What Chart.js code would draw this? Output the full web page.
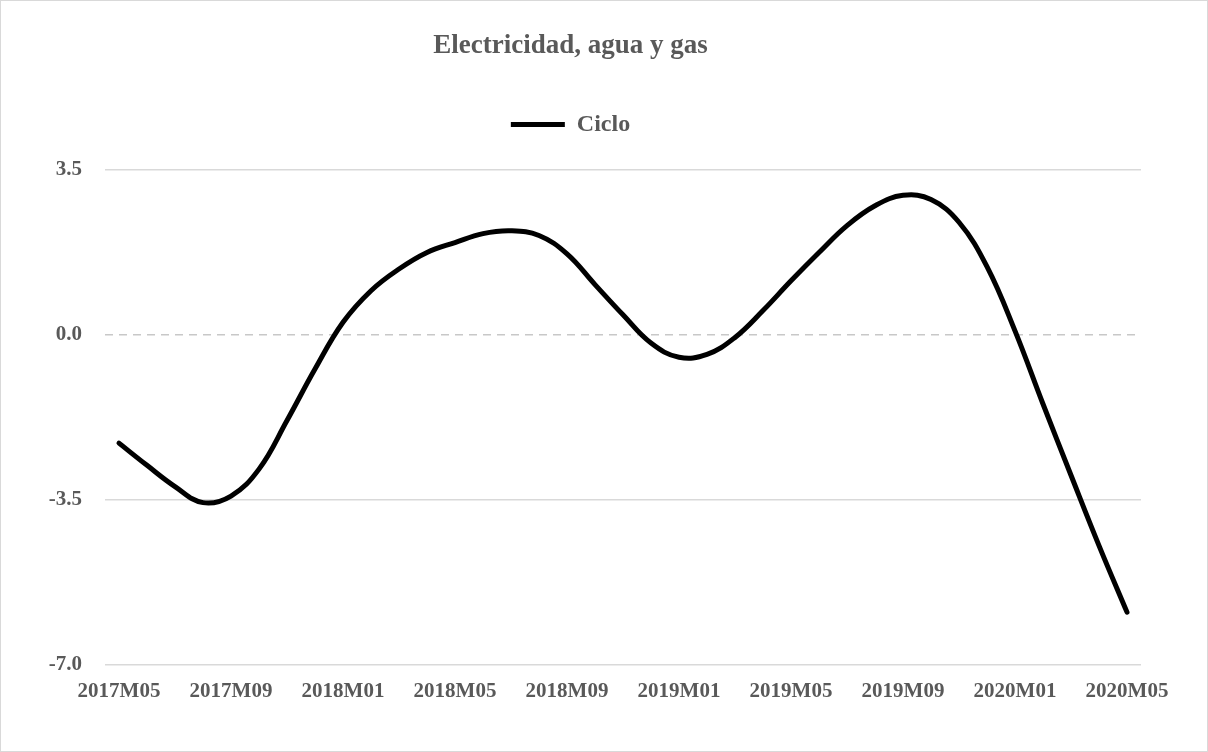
<!DOCTYPE html>
<html>
<head>
<meta charset="utf-8">
<script src="https://cdn.jsdelivr.net/npm/chart.js@4.4.1/dist/chart.umd.min.js"></script>
<style>
html,body{margin:0;padding:0;background:#fff;}
#wrap{width:1208px;height:752px;position:relative;}
</style>
</head>
<body>
<div id="wrap"><canvas id="c" width="1208" height="752"></canvas></div>
<script>
const titleText = "Electricidad, agua y gas";
const seriesName = "Ciclo";
const months = [
  "2017M05","2017M06","2017M07","2017M08","2017M09","2017M10","2017M11","2017M12",
  "2018M01","2018M02","2018M03","2018M04","2018M05","2018M06","2018M07","2018M08",
  "2018M09","2018M10","2018M11","2018M12","2019M01","2019M02","2019M03","2019M04",
  "2019M05","2019M06","2019M07","2019M08","2019M09","2019M10","2019M11","2019M12",
  "2020M01","2020M02","2020M03","2020M04","2020M05"
];
const ciclo = [
  -2.30, -2.77, -3.22, -3.56, -3.42, -2.85, -1.82, -0.73,
   0.26,  0.93,  1.39,  1.74,  1.95,  2.14,  2.20,  2.10,
   1.71,  1.06,  0.42, -0.18, -0.48, -0.42, -0.06,  0.51,
   1.14,  1.74,  2.31,  2.73,  2.95,  2.86,  2.38,  1.44,
   0.08, -1.47, -2.98, -4.47, -5.88
];
const yTicks = [-7.0, -3.5, 0.0, 3.5];

const textColor = "#595959";
const fontFam = "'Liberation Serif', 'Times New Roman', serif";

const borderPlugin = {
  id: 'outerBorder',
  afterDraw(chart) {
    const ctx = chart.ctx;
    ctx.save();
    ctx.strokeStyle = '#d9d9d9';
    ctx.lineWidth = 1;
    ctx.strokeRect(0.5, 0.5, chart.width - 1, chart.height - 1);
    ctx.restore();
  }
};

const legendGapPlugin = {
  id: 'legendGap',
  beforeLayout(chart) {
    const lg = chart.legend;
    if (lg && !lg._gapPatched) {
      const origFit = lg.fit.bind(lg);
      lg.fit = function() { origFit(); this.height += 23; };
      lg._gapPatched = true;
    }
  }
};

new Chart(document.getElementById('c'), {
  type: 'line',
  data: {
    labels: months,
    datasets: [{
      label: seriesName,
      data: ciclo,
      borderColor: '#000000',
      backgroundColor: '#000000',
      borderWidth: 5,
      borderCapStyle: 'round',
      borderJoinStyle: 'round',
      pointRadius: 0,
      pointHoverRadius: 0,
      pointStyle: 'line',
      tension: 0.4,
      fill: false,
      clip: false
    }]
  },
  options: {
    responsive: false,
    animation: false,
    devicePixelRatio: 1,
    layout: { padding: { top: 0, left: 0, right: 67, bottom: 0 } },
    plugins: {
      title: {
        display: true,
        text: titleText,
        color: textColor,
        font: { family: fontFam, size: 27, weight: 'bold' },
        padding: { top: 30, bottom: 17 }
      },
      legend: {
        display: true,
        position: 'top',
        labels: {
          color: textColor,
          font: { family: fontFam, size: 24, weight: 'bold' },
          usePointStyle: true,
          pointStyle: 'line',
          pointStyleWidth: 54,
          boxWidth: 54,
          boxHeight: 24,
          padding: 33
        }
      },
      tooltip: { enabled: false }
    },
    scales: {
      x: {
        offset: true,
        grid: { display: false, drawTicks: false },
        border: { display: false },
        ticks: {
          autoSkip: false,
          maxRotation: 0,
          minRotation: 0,
          padding: 14,
          color: textColor,
          font: { family: fontFam, size: 21, weight: 'bold' },
          callback: function(v, i) { return i % 4 === 0 ? months[i] : ''; }
        },
        afterFit: function(s) { s.height = 87; }
      },
      y: {
        min: yTicks[0],
        max: yTicks[yTicks.length - 1],
        afterBuildTicks: function(s) { s.ticks = yTicks.map(v => ({ value: v })); },
        grid: {
          drawTicks: false,
          lineWidth: 1.5,
          color: function(ctx) { return (ctx.tick && ctx.tick.value === 0) ? '#c8c8c8' : '#d9d9d9'; }
        },
        border: {
          display: false,
          dash: function(ctx) { return (ctx.tick && ctx.tick.value === 0) ? [8, 6] : []; }
        },
        ticks: {
          padding: 23,
          color: textColor,
          font: { family: fontFam, size: 21, weight: 'bold' },
          callback: function(v) { return Number(v).toFixed(1); }
        },
        afterFit: function(s) { s.width = 105; }
      }
    }
  },
  plugins: [borderPlugin, legendGapPlugin]
});
</script>
</body>
</html>
